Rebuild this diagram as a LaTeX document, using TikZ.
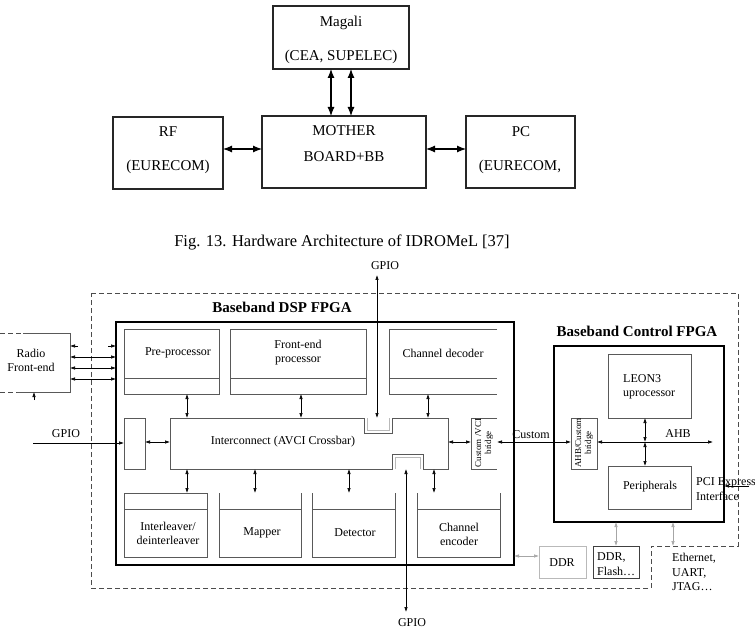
\documentclass[tikz,border=0pt]{standalone}
\usepackage{fontspec}
\setmainfont{Liberation Serif}
\usetikzlibrary{arrows.meta}
\begin{document}
\begin{tikzpicture}[x=1pt,y=-1pt,
  tbox/.style={draw=black!85, line width=1.1pt, inner sep=0pt, outer sep=0pt, anchor=north west},
  ttext/.style={font=\fontsize{15}{17}\selectfont, inner sep=0pt},
  tarr/.style={{Latex[length=9pt,width=7pt]}-{Latex[length=9pt,width=7pt]}, line width=1.1pt},
  fpga/.style={draw=black, line width=1.9pt, inner sep=0pt, outer sep=0pt, anchor=north west},
  sub/.style={draw=black!65, line width=0.9pt, inner sep=0pt, outer sep=0pt, anchor=north west},
  hid/.style={inner sep=0pt, outer sep=0pt, anchor=north west},
  subline/.style={draw=black!65, line width=0.9pt},
  btext/.style={font=\fontsize{12}{14}\selectfont, inner sep=0pt, align=center},
  ltext/.style={font=\fontsize{12}{14.5}\selectfont, inner sep=0pt, align=left, anchor=west},
  rtext/.style={font=\fontsize{9}{10}\selectfont, inner sep=0pt, align=center, rotate=90},
  ttl/.style={font=\bfseries\fontsize{15}{17}\selectfont, inner sep=0pt},
  sarr/.style={{Latex[length=5pt,width=3.5pt]}-{Latex[length=5pt,width=3.5pt]}, line width=0.6pt},
  oarr/.style={-{Latex[length=5pt,width=3.5pt]}, line width=0.6pt},
  garr/.style={{Latex[length=5pt,width=3.5pt]}-{Latex[length=5pt,width=3.5pt]}, line width=0.6pt, draw=gray!70, color=gray!70},
  dsh/.style={draw=black!70, line width=0.6pt, dash pattern=on 5pt off 3pt},
]
\useasboundingbox (0,0) rectangle (755,636);

% ---------------- top diagram ----------------
\node[tbox, minimum width=136pt, minimum height=63pt] (magali) at (273,6) {};
\node[tbox, minimum width=164pt, minimum height=72pt] (mother) at (262,116) {};
\node[tbox, minimum width=110pt, minimum height=72pt] (rf) at (113,117) {};
\node[tbox, minimum width=109pt, minimum height=72pt] (pc) at (466,116) {};
\node[ttext] (magaliA) at (341,23) {Magali};
\node[ttext] (magaliB) at (341,57) {(CEA, SUPELEC)};
\node[ttext] (motherA) at (344,131) {MOTHER};
\node[ttext] (motherB) at (344,157) {BOARD+BB};
\node[ttext] (rfA) at (168,132) {RF};
\node[ttext] (rfB) at (168,167) {(EURECOM)};
\node[ttext] (pcA) at (521,132) {PC};
\node[ttext] (pcB) at (520,167) {(EURECOM,};
\draw[tarr] (magali.south -| 331,0) -- (mother.north -| 331,0);
\draw[tarr] (magali.south -| 351,0) -- (mother.north -| 351,0);
\draw[tarr] (rf.east |- 0,149) -- (mother.west |- 0,149);
\draw[tarr] (mother.east |- 0,149) -- (pc.west |- 0,149);
\node[font=\fontsize{16.5}{18}\selectfont, inner sep=0pt] (caption) at (342,242) {Fig. 13. Hardware Architecture of IDROMeL [37]};

% ---------------- bottom diagram ----------------
\draw[dsh] (91,293) -- (738,293) -- (738,546) -- (651,546) -- (651,588) -- (91,588) -- cycle;

% Radio front-end
\node[hid, minimum width=70pt, minimum height=59pt] (radio) at (0,333) {};
\draw[subline] (23,333) -- (radio.north east) -- (radio.south east) -- (17,392);
\draw[dsh] (radio.north west) -- (23,333);
\draw[dsh] (radio.south west) -- (17,392);
\node[btext] (radioT) at (31,360) {Radio\\Front-end};
\coordinate (rtip) at (34,400);
\draw[oarr] (rtip) -- (radio.south -| rtip);

% DSP FPGA
\node[fpga, minimum width=398pt, minimum height=243pt] (dsp) at (116,322) {};
\node[ttl] (dspT) at (282,307) {Baseband DSP FPGA};

\coordinate (r1a) at (78,346);
\coordinate (r1b) at (108,346);
\draw[{Latex[length=5pt,width=3.5pt]}-, line width=0.6pt] (radio.east |- r1a) -- (r1a);
\draw[oarr] (r1b) -- (dsp.west |- r1b);
\draw[sarr] (radio.east |- 0,357) -- (dsp.west |- 0,357);
\draw[sarr] (radio.east |- 0,368) -- (dsp.west |- 0,368);
\draw[sarr] (radio.east |- 0,379) -- (dsp.west |- 0,379);

% top row
\node[sub, minimum width=95pt, minimum height=65pt] (pre) at (124,329) {};
\draw[subline] (124,378) -- (219,378);
\node[btext] (preT) at (178,353) {Pre-processor};
\node[sub, minimum width=136pt, minimum height=65pt] (fep) at (230,329) {};
\draw[subline] (230,378) -- (366,378);
\node[btext] (fepT) at (298,353) {Front-end\\processor};
\node[hid, minimum width=108pt, minimum height=65pt] (chdec) at (389,329) {};
\draw[subline] (chdec.north east) -- (chdec.north west) -- (chdec.south west) -- (chdec.south east);
\draw[subline] (389,378) -- (497,378);
\node[btext] (chdecT) at (443,353) {Channel decoder};

% interconnect row
\node[hid, minimum width=278pt, minimum height=51pt] (inter) at (170,418) {};
\draw[subline] (inter.north west) -- (364,418) -- (364,433) -- (392,433) -- (392,418) -- (inter.north east)
  -- (inter.south east) -- (423,469) -- (423,454) -- (392,454) -- (392,469) -- (inter.south west) -- cycle;
\draw[gray!55, line width=1pt] (367,418) -- (367,430) -- (389,430) -- (389,418);
\draw[gray!55, line width=1pt] (395,469) -- (395,457) -- (420,457) -- (420,469);
\node[btext] (interT) at (283,442) {Interconnect (AVCI Crossbar)};
\node[sub, minimum width=21pt, minimum height=51pt] (lbox) at (124,418) {};
\node[hid, minimum width=26pt, minimum height=51pt] (cvb) at (471,418) {};
\draw[subline] (cvb.north east) -- (cvb.north west) -- (cvb.south west) -- (cvb.south east);
\node[rtext] (cvbT) at (484,443) {Custom /VCI\\bridge};

% bottom row
\node[sub, minimum width=83pt, minimum height=64pt] (ileave) at (124,493) {};
\draw[subline] (124,509) -- (207,509);
\node[btext] (ileaveT) at (168,533) {Interleaver/\\deinterleaver};
\node[hid, minimum width=82pt, minimum height=64pt] (mapper) at (219,493) {};
\draw[subline] (mapper.north west) -- (mapper.south west) -- (mapper.south east) -- (mapper.north east);
\draw[subline] (219,509) -- (301,509);
\node[btext] (mapperT) at (262,533) {Mapper};
\node[hid, minimum width=83pt, minimum height=64pt] (detector) at (312,493) {};
\draw[subline] (detector.north west) -- (detector.south west) -- (detector.south east) -- (detector.north east);
\draw[subline] (312,509) -- (395,509);
\node[btext] (detectorT) at (355,533) {Detector};
\node[hid, minimum width=83pt, minimum height=64pt] (chenc) at (417,493) {};
\draw[subline] (chenc.north west) -- (chenc.south west) -- (chenc.south east) -- (chenc.north east);
\draw[subline] (417,509) -- (500,509);
\node[btext] (chencT) at (459,534) {Channel\\encoder};

% internal arrows
\draw[sarr] (pre.south -| 187,0) -- (inter.north -| 187,0);
\draw[sarr] (fep.south -| 301,0) -- (inter.north -| 301,0);
\draw[sarr] (chdec.south -| 428,0) -- (inter.north -| 428,0);
\draw[sarr] (inter.south -| 187,0) -- (ileave.north -| 187,0);
\draw[sarr] (inter.south -| 255,0) -- (mapper.north -| 255,0);
\draw[sarr] (inter.south -| 349,0) -- (detector.north -| 349,0);
\draw[sarr] (inter.south -| 434,0) -- (chenc.north -| 434,0);
\draw[sarr] (lbox.east |- 0,442) -- (inter.west |- 0,442);
\draw[sarr] (inter.east |- 0,442) -- (cvb.west |- 0,442);

% GPIOs
\coordinate (gL) at (33,443);
\draw[oarr] (gL) -- (lbox.west |- gL);
\node[btext] (gpioL) at (66,434) {GPIO};
\node[btext] (gpioT) at (385,266) {GPIO};
\coordinate (gT) at (377,275);
\draw[sarr] (gT) -- (inter.north -| gT);
\node[btext] (gpioB) at (412,623) {GPIO};
\coordinate (gB) at (406,612);
\draw[sarr] (inter.south -| gB) -- (gB);

% Control FPGA
\node[fpga, minimum width=170pt, minimum height=176pt] (ctrl) at (554,346) {};
\node[ttl] (ctrlT) at (637,331) {Baseband Control FPGA};
\node[sub, minimum width=83pt, minimum height=64pt] (leon) at (608,354) {};
\node[ltext] (leonT) at (623,387) {LEON3\\uprocessor};
\node[sub, minimum width=83pt, minimum height=43pt] (periph) at (608,466) {};
\node[btext] (periphT) at (650,487) {Peripherals};
\node[sub, minimum width=26pt, minimum height=51pt] (ahbb) at (571,418) {};
\node[rtext] (ahbbT) at (584,443) {AHB/Custom\\bridge};
\coordinate (ahbEnd) at (713,442);
\draw[sarr] (ahbb.east |- ahbEnd) -- (ahbEnd);
\node[btext] (ahbT) at (678,434) {AHB};
\coordinate (bus) at (645,442);
\draw[sarr] (leon.south -| bus) -- (bus);
\draw[sarr] (bus) -- (periph.north -| bus);
\draw[sarr] (cvb.east |- 0,442) -- (ahbb.west |- 0,442);
\node[btext] (customT) at (531,435) {Custom};
\node[ltext] (pciT) at (696,489) {PCI Express\\Interface};
\coordinate (pciIn) at (749,486);
\draw[oarr] (pciIn) -- (ctrl.east |- pciIn);

% memories and I/O
\node[sub, draw=gray!55, minimum width=47pt, minimum height=32pt] (ddr) at (539,546) {};
\node[btext] (ddrT) at (562,563) {DDR};
\draw[garr] (dsp.east |- 0,556) -- (ddr.west |- 0,556);
\node[sub, draw=black!75, minimum width=46pt, minimum height=32pt] (ddrf) at (593,546) {};
\node[ltext] (ddrfT) at (597,564) {DDR,\\Flash…};
\draw[garr] (ctrl.south -| 616,0) -- (ddrf.north -| 616,0);
\coordinate (ethTop) at (673,546);
\draw[garr] (ctrl.south -| ethTop) -- (ethTop);
\node[ltext] (ethT) at (672,572) {Ethernet,\\UART,\\JTAG…};
\end{tikzpicture}
\end{document}
